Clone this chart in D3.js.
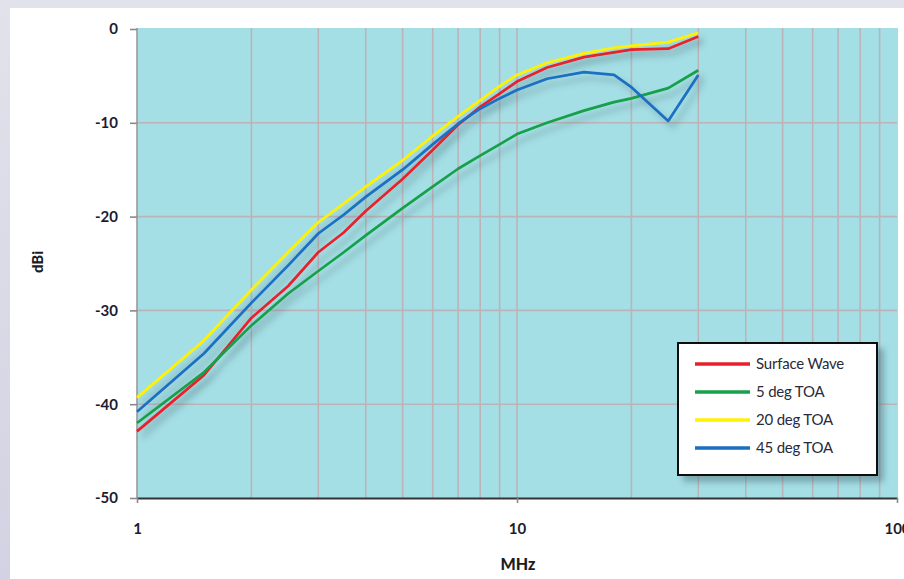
<!DOCTYPE html>
<html>
<head>
<meta charset="utf-8">
<script src="https://cdn.jsdelivr.net/npm/d3@7/dist/d3.min.js"></script>
<style>
  html, body { margin: 0; padding: 0; }
  body { width: 904px; height: 579px; overflow: hidden;
         background: linear-gradient(180deg, #e2e2ec 0%, #d2d2e2 100%); }
  svg { display: block; }
</style>
</head>
<body>
<svg id="chart" width="904" height="579"></svg>
<script>
// Gain vs frequency for a ground-mounted antenna
const freqMHz     = [1, 1.5, 2, 2.5, 3, 3.5, 4, 5, 6, 7, 8, 9, 10, 12, 15, 18, 20, 25, 30];
const surfaceWave = [-42.9, -36.9, -30.8, -27.4, -23.8, -21.7, -19.4, -16.0, -12.9, -10.2, -8.3, -6.9, -5.6, -4.1, -3.0, -2.5, -2.2, -2.1, -0.8];
const toa5deg     = [-42.0, -36.6, -31.6, -28.2, -25.8, -23.8, -22.0, -19.1, -16.8, -14.9, -13.5, -12.3, -11.2, -10.0, -8.7, -7.8, -7.4, -6.3, -4.4];
const toa20deg    = [-39.3, -33.2, -27.8, -23.8, -20.6, -18.6, -16.8, -14.0, -11.4, -9.3, -7.6, -6.1, -4.9, -3.6, -2.6, -2.0, -1.8, -1.4, -0.4];
const toa45deg    = [-40.8, -34.6, -29.2, -25.2, -21.8, -19.8, -17.9, -15.0, -12.3, -10.1, -8.5, -7.4, -6.5, -5.3, -4.6, -4.9, -6.2, -9.8, -4.9];

const seriesNames  = ["Surface Wave", "5 deg TOA", "20 deg TOA", "45 deg TOA"];
const seriesValues = [surfaceWave, toa5deg, toa20deg, toa45deg];
const seriesColors = ["#e8202c", "#17a04a", "#fff200", "#1b6fc2"];

const xTickLabels = [1, 10, 100];
const yTickLabels = [0, -10, -20, -30, -40, -50];
const xMinorGrid  = [2, 3, 4, 5, 6, 7, 8, 9, 10, 20, 30, 40, 50, 60, 70, 80, 90];
const xTitle = "MHz";
const yTitle = "dBi";

const svg = d3.select("#chart");
const W = 904, H = 579;
const plot = { left: 137, right: 897, top: 28, bottom: 498 };

const x = d3.scaleLog().domain([1, 100]).range([plot.left, plot.right]);
const y = d3.scaleLinear().domain([-50, 0]).range([plot.bottom, 29]);

const defs = svg.append("defs");
const shadow = defs.append("filter").attr("id", "lineShadow")
  .attr("x", "-10%").attr("y", "-10%").attr("width", "130%").attr("height", "130%");
shadow.append("feDropShadow").attr("dx", 5).attr("dy", 6).attr("stdDeviation", 3)
  .attr("flood-color", "#3a5560").attr("flood-opacity", 0.38);
const boxShadow = defs.append("filter").attr("id", "boxShadow")
  .attr("x", "-10%").attr("y", "-10%").attr("width", "130%").attr("height", "130%");
boxShadow.append("feDropShadow").attr("dx", 6).attr("dy", 6).attr("stdDeviation", 3)
  .attr("flood-color", "#3a5560").attr("flood-opacity", 0.4);

// white panel
svg.append("rect").attr("x", 10).attr("y", 8).attr("width", W - 10).attr("height", H - 8)
  .attr("fill", "#ffffff");

// plot background
svg.append("rect")
  .attr("x", plot.left).attr("y", plot.top)
  .attr("width", plot.right - plot.left + 1).attr("height", plot.bottom - plot.top)
  .attr("fill", "#a5dfe6");

// grid
const grid = svg.append("g").attr("stroke", "#bcb3b8").attr("stroke-width", 1.6);
grid.selectAll("line.v").data(xMinorGrid).join("line").attr("class", "v")
  .attr("x1", d => x(d)).attr("x2", d => x(d))
  .attr("y1", plot.top).attr("y2", plot.bottom);
grid.selectAll("line.h").data(yTickLabels.filter(d => d > -50 && d < 0)).join("line").attr("class", "h")
  .attr("x1", plot.left).attr("x2", plot.right)
  .attr("y1", d => y(d)).attr("y2", d => y(d));

// axes
const yAxis = svg.append("g").attr("transform", `translate(${plot.left},0)`)
  .call(d3.axisLeft(y).tickValues(yTickLabels).tickFormat(d => String(d))
    .tickSize(7).tickPadding(12).tickSizeOuter(0));
yAxis.select(".domain").attr("stroke", "#9a9a9a").attr("stroke-width", 1.6)
  .attr("d", `M0,${plot.top}V${plot.bottom}`);
yAxis.selectAll(".tick line").attr("stroke", "#8a8a8a").attr("stroke-width", 1.6);

const xAxis = svg.append("g").attr("transform", `translate(0,${plot.bottom})`)
  .call(d3.axisBottom(x).tickValues(xTickLabels).tickFormat(d => String(d))
    .tickSize(5).tickPadding(20).tickSizeOuter(0));
xAxis.select(".domain").attr("stroke", "#333").attr("stroke-width", 2.2);
xAxis.selectAll(".tick line").attr("stroke", "#8a8a8a").attr("stroke-width", 1.6);

svg.selectAll(".tick text")
  .attr("fill", "#1c1c30").attr("font-family", "Lato, 'Open Sans', sans-serif")
  .attr("font-weight", 700).attr("font-size", 15);

// titles
svg.append("text").attr("x", 518).attr("y", 570).attr("text-anchor", "middle")
  .attr("font-family", "Lato, sans-serif").attr("font-weight", 900).attr("font-size", 16)
  .attr("fill", "#1c1c22").text(xTitle);
svg.append("text").attr("transform", "translate(43,262) rotate(-90)").attr("text-anchor", "middle")
  .attr("font-family", "Lato, sans-serif").attr("font-weight", 900).attr("font-size", 15)
  .attr("fill", "#1c1c22").text(yTitle);

// series lines
const line = d3.line().x((d, i) => x(freqMHz[i])).y(d => y(d));
const lines = svg.append("g").attr("filter", "url(#lineShadow)");
lines.selectAll("path").data(seriesValues).join("path")
  .attr("d", d => line(d))
  .attr("fill", "none")
  .attr("stroke", (d, i) => seriesColors[i])
  .attr("stroke-width", 2.7)
  .attr("stroke-linejoin", "round");

// legend
const legend = svg.append("g").attr("transform", "translate(678,343)");
legend.append("rect").attr("width", 199).attr("height", 132)
  .attr("fill", "#fff").attr("stroke", "#111").attr("stroke-width", 2)
  .attr("filter", "url(#boxShadow)");
const rows = legend.selectAll("g.row").data(seriesNames).join("g").attr("class", "row")
  .attr("transform", (d, i) => `translate(0,${21 + i * 28})`);
rows.append("line").attr("x1", 17).attr("x2", 72)
  .attr("stroke", (d, i) => seriesColors[i]).attr("stroke-width", 3.5);
rows.append("text").attr("x", 78).attr("dy", "0.35em")
  .attr("font-family", "Lato, sans-serif").attr("font-size", 15)
  .attr("letter-spacing", "-0.2px")
  .attr("fill", "#2a2a3a").text(d => d);
</script>
</body>
</html>
